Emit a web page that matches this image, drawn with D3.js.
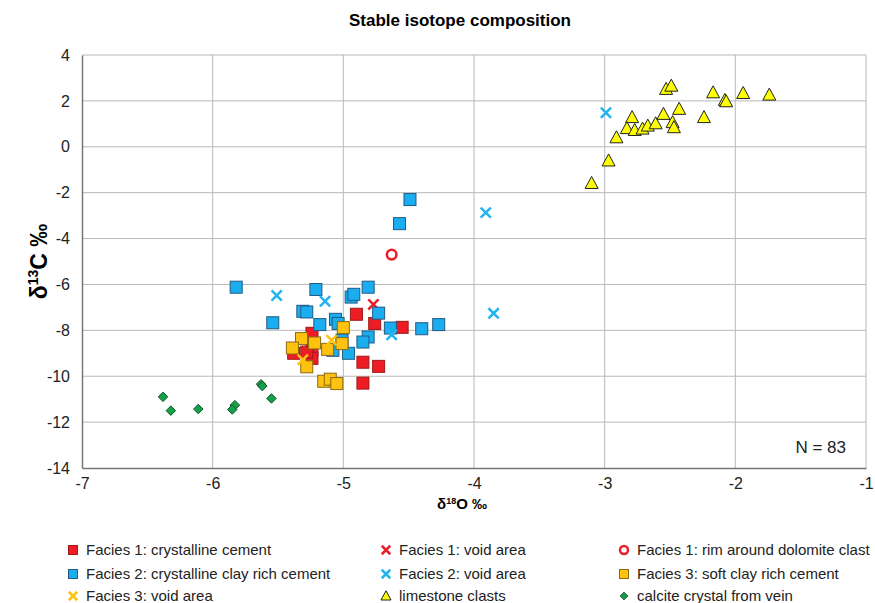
<!DOCTYPE html>
<html>
<head>
<meta charset="utf-8">
<script src="https://cdn.jsdelivr.net/npm/d3@7"></script>
<style>
  body { margin: 0; background: #fff; }
  svg { font-family: "Liberation Sans Narrow", "Liberation Sans", Arial, sans-serif; }
</style>
</head>
<body>
<script>
// data (d18O, d13C)
const facies1Cement = [[-4.90,-7.30],[-4.76,-7.70],[-4.55,-7.87],[-4.85,-9.39],[-4.73,-9.57],[-4.85,-10.30],[-5.24,-8.13],[-5.24,-8.87],[-5.38,-9.00],[-5.24,-9.22],[-5.28,-8.95]]
const facies1Void = [[-4.77,-6.87]]
const facies1Rim = [[-4.63,-4.70]]
const facies2Cement = [[-5.82,-6.12],[-5.54,-7.67],[-5.21,-6.22],[-5.31,-7.17],[-5.28,-7.20],[-5.18,-7.75],[-5.06,-7.52],[-5.04,-7.70],[-4.94,-6.55],[-4.92,-6.43],[-4.81,-6.12],[-4.73,-7.25],[-4.64,-7.90],[-4.40,-7.93],[-4.27,-7.75],[-4.81,-8.29],[-4.85,-8.51],[-4.96,-9.00],[-5.08,-8.87],[-5.01,-8.43],[-4.49,-2.30],[-4.57,-3.35]]
const facies2Void = [[-5.51,-6.48],[-5.14,-6.73],[-3.91,-2.87],[-3.85,-7.26],[-2.99,1.48],[-4.63,-8.19]]
const facies3Cement = [[-5.32,-8.36],[-5.39,-8.77],[-5.22,-8.55],[-5.00,-7.88],[-5.01,-8.58],[-5.12,-8.83],[-5.28,-9.59],[-5.15,-10.22],[-5.10,-10.13],[-5.05,-10.32]]
const facies3Void = [[-5.31,-9.28],[-5.09,-8.43]]
const limestone = [[-3.10,-1.59],[-2.97,-0.61],[-2.91,0.40],[-2.79,1.28],[-2.83,0.80],[-2.77,0.72],[-2.71,0.78],[-2.67,0.91],[-2.61,1.01],[-2.55,1.42],[-2.48,1.06],[-2.47,0.84],[-2.43,1.64],[-2.53,2.51],[-2.49,2.65],[-2.24,1.28],[-2.17,2.36],[-2.08,2.03],[-2.07,1.97],[-1.94,2.33],[-1.74,2.26]]
const calcite = [[-6.38,-10.90],[-6.32,-11.50],[-6.11,-11.43],[-5.83,-11.26],[-5.85,-11.45],[-5.63,-10.35],[-5.62,-10.43],[-5.55,-10.97]]

const xTicks = [-7, -6, -5, -4, -3, -2, -1]
const yTicks = [4, 2, 0, -2, -4, -6, -8, -10, -12, -14]

// marker types + colours, in legend order
const series = [
  { name: "Facies 1: crystalline cement", data: facies1Cement, type: "square", fill: "#ee1c25", stroke: "#9e1a1a" },
  { name: "Facies 1: void area", data: facies1Void, type: "x", stroke: "#e8202a" },
  { name: "Facies 1: rim around dolomite clast", data: facies1Rim, type: "circle", stroke: "#e8202a" },
  { name: "Facies 2: crystalline clay rich cement", data: facies2Cement, type: "square", fill: "#1aaef0", stroke: "#215a84" },
  { name: "Facies 2: void area", data: facies2Void, type: "x", stroke: "#22b4ee" },
  { name: "Facies 3: soft clay rich cement", data: facies3Cement, type: "square", fill: "#ffc20e", stroke: "#8a6a10" },
  { name: "Facies 3: void area", data: facies3Void, type: "x", stroke: "#ffc20e" },
  { name: "limestone clasts", data: limestone, type: "triangle", fill: "#ffff00", stroke: "#222" },
  { name: "calcite crystal from vein", data: calcite, type: "diamond", fill: "#12a048", stroke: "#14532d" }
]

const width = 875, height = 603
const margin = { top: 55, right: 9, bottom: 135, left: 82 }

const svg = d3.select("body").append("svg")
  .attr("width", width)
  .attr("height", height)

const x = d3.scaleLinear().domain([-7, -1]).range([margin.left, width - margin.right])
const y = d3.scaleLinear().domain([-14, 4]).range([height - margin.bottom, margin.top])

// grid
svg.append("g").selectAll("line.vg")
  .data(xTicks.slice(1))
  .join("line")
  .attr("x1", d => x(d)).attr("x2", d => x(d))
  .attr("y1", y(4)).attr("y2", y(-14))
  .attr("stroke", "#b8b8b8").attr("stroke-width", 1)

svg.append("g").selectAll("line.hg")
  .data(yTicks.slice(0, -1))
  .join("line")
  .attr("x1", x(-7)).attr("x2", x(-1))
  .attr("y1", d => y(d)).attr("y2", d => y(d))
  .attr("stroke", "#b8b8b8").attr("stroke-width", 1)

// axes
const xAxis = svg.append("g")
  .attr("transform", `translate(0,${y(-14)})`)
  .call(d3.axisBottom(x).tickValues(xTicks).tickSize(0).tickPadding(10).tickFormat(d => String(d)))
xAxis.select(".domain").attr("stroke", "#777").attr("stroke-width", 1.5)
xAxis.selectAll("text").attr("font-size", 16).attr("fill", "#222")
  .attr("font-family", "'Liberation Sans Narrow', Arial, sans-serif")

const yAxis = svg.append("g")
  .attr("transform", `translate(${x(-7)},0)`)
  .call(d3.axisLeft(y).tickValues(yTicks).tickSize(0).tickPadding(12).tickFormat(d => String(d)))
yAxis.select(".domain").attr("stroke", "#777").attr("stroke-width", 1.5)
yAxis.selectAll("text").attr("font-size", 16).attr("fill", "#222")
  .attr("font-family", "'Liberation Sans Narrow', Arial, sans-serif")

// marker drawing
function drawMarker(g, s, size) {
  const h = size / 2
  if (s.type === "square") {
    g.append("rect").attr("x", -h).attr("y", -h).attr("width", size).attr("height", size)
      .attr("fill", s.fill).attr("stroke", s.stroke).attr("stroke-width", 1)
  } else if (s.type === "x") {
    const r = h * 0.85
    g.append("path").attr("d", `M${-r},${-r}L${r},${r}M${-r},${r}L${r},${-r}`)
      .attr("stroke", s.stroke).attr("stroke-width", 2.5).attr("fill", "none")
  } else if (s.type === "circle") {
    g.append("circle").attr("r", h * 0.8).attr("fill", "white")
      .attr("stroke", s.stroke).attr("stroke-width", 2.5)
  } else if (s.type === "triangle") {
    g.append("path").attr("d", `M0,${-h * 1.05}L${h},${h * 0.8}L${-h},${h * 0.8}Z`)
      .attr("fill", s.fill).attr("stroke", s.stroke).attr("stroke-width", 1)
  } else if (s.type === "diamond") {
    const r = h * 0.95
    g.append("path").attr("d", `M0,${-r}L${r},0L0,${r}L${-r},0Z`)
      .attr("fill", s.fill).attr("stroke", s.stroke).attr("stroke-width", 1)
  }
}

const sizes = { square: 12, x: 12, circle: 12, triangle: 13, diamond: 10 }

series.forEach(s => {
  svg.append("g").selectAll("g")
    .data(s.data)
    .join("g")
    .attr("transform", d => `translate(${x(d[0])},${y(d[1])})`)
    .each(function () { drawMarker(d3.select(this), s, sizes[s.type]) })
})

// title + axis titles
svg.append("text")
  .attr("x", 460).attr("y", 26)
  .attr("text-anchor", "middle")
  .attr("font-size", 17).attr("font-weight", "bold")
  .attr("font-family", "'Liberation Sans', Arial, sans-serif")
  .text("Stable isotope composition")

const yt = svg.append("text")
  .attr("transform", `translate(47,${y(-5)}) rotate(-90)`)
  .attr("text-anchor", "middle")
  .attr("font-size", 23).attr("font-weight", "bold")
  .attr("font-family", "'Liberation Sans', Arial, sans-serif")
yt.append("tspan").text("δ")
yt.append("tspan").attr("font-size", 14).attr("dy", -9).text("13")
yt.append("tspan").attr("dy", 9).text("C ‰")

const xt = svg.append("text")
  .attr("x", 462).attr("y", 509)
  .attr("text-anchor", "middle")
  .attr("font-size", 15).attr("font-weight", "bold")
  .attr("font-family", "'Liberation Sans Narrow', Arial, sans-serif")
xt.append("tspan").text("δ")
xt.append("tspan").attr("font-size", 9).attr("dy", -5).text("18")
xt.append("tspan").attr("dy", 5).text("O ‰")

svg.append("text")
  .attr("x", 846).attr("y", 453)
  .attr("text-anchor", "end")
  .attr("font-size", 17).attr("fill", "#222")
  .text("N = 83")

// legend, 3 columns
const legCols = [73, 386, 624]
const legRows = [550, 574, 596]
series.forEach((s, i) => {
  const g = svg.append("g")
    .attr("transform", `translate(${legCols[i % 3]},${legRows[Math.floor(i / 3)]})`)
  drawMarker(g, s, s.type === "square" ? 9 : s.type === "diamond" ? 8 : 10)
  g.append("text")
    .attr("x", 13).attr("y", 5)
    .attr("font-size", 15).attr("fill", "#222")
    .text(s.name)
})
</script>
</body>
</html>
